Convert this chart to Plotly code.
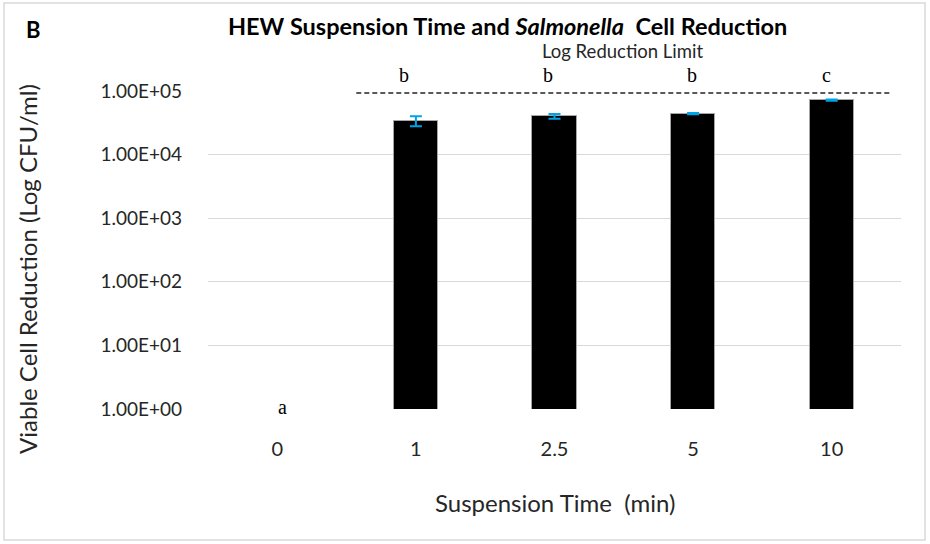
import plotly.graph_objects as go

# Data
times = ["0", "1", "2.5", "5", "10"]
reduction = [1, 34000, 40000, 44000, 72000]
reduction_err = [0, 6000, 3500, 1000, 1500]
group_letters = ["a", "b", "b", "b", "c"]
log_limit = 93000
tick_vals = [1, 10, 100, 1000, 10000, 100000]
tick_text = ["1.00E+00", "1.00E+01", "1.00E+02", "1.00E+03", "1.00E+04", "1.00E+05"]

W, H = 930, 544
L, R, T, B = 208, 29, 91, 135
FONT = "Lato"
TXT = "#262626"

fig = go.Figure()

# a reduction of 1 (no change) has no visible bar on the log axis
bar_y = [v if v > 1 else None for v in reduction]
bar_err = [e if v > 1 else None for v, e in zip(reduction, reduction_err)]

fig.add_trace(go.Bar(
    x=times, y=bar_y,
    width=0.32,
    marker=dict(color="black", line=dict(color="#a6a6a6", width=1)),
    error_y=dict(type="data", array=bar_err, visible=True,
                 color="#00a2e8", thickness=2, width=6),
    showlegend=False, hoverinfo="skip",
))

# limit line across the treated groups (overlaid numeric axis)
fig.add_trace(go.Scatter(
    x=[0.57, 4.42], y=[log_limit, log_limit], xaxis="x2",
    mode="lines", line=dict(color="#595959", width=2, dash="5px,3px"),
    showlegend=False, hoverinfo="skip",
))

fig.update_layout(
    width=W, height=H,
    margin=dict(l=L, r=R, t=T, b=B),
    paper_bgcolor="white", plot_bgcolor="white",
    font=dict(family=FONT, color=TXT),
    bargap=0,
    xaxis=dict(
        type="category", range=[-0.5, 4.5],
        showgrid=False, zeroline=False, showline=False,
        ticks="", tickfont=dict(size=20, color=TXT),
        ticklabelstandoff=26,
    ),
    xaxis2=dict(overlaying="x", range=[-0.5, 4.5], visible=False),
    yaxis=dict(
        type="log", range=[0, 5],
        tickvals=tick_vals, ticktext=tick_text,
        showgrid=True, gridcolor="#d9d9d9", gridwidth=1,
        zeroline=False, showline=False, ticks="",
        tickfont=dict(size=19, color=TXT),
        ticklabelstandoff=25,
    ),
)

pw = W - L - R
ph = H - T - B

def px_x(px):
    return (px - L) / pw

def px_y(py):
    return 1 - (py - T) / ph

def label(text, cx, cy, size, color=TXT, **kw):
    return dict(text=text, x=px_x(cx), y=px_y(cy), xref="paper", yref="paper",
                xanchor="center", yanchor="middle", showarrow=False, borderpad=0,
                font=dict(size=size, color=color), **kw)

annotations = [
    label("<b>B</b>", 33, 29, 22, "#000000"),
    label("<b>HEW Suspension Time and <i>Salmonella</i>  Cell Reduction</b>",
          507, 26, 23.5, "#000000"),
    label("Log Reduction Limit", 622, 51, 18.5),
    label("Suspension Time  (min)", 555, 502, 24),
    label("Viable Cell Reduction (Log CFU/ml)", 27, 269, 24, textangle=-90),
]

letter_shift = [5, -12, -7, -1, -5]
for i, (letter, v, dx) in enumerate(zip(group_letters, reduction, letter_shift)):
    untreated = v <= 1
    annotations.append(dict(
        text=letter, x=i, y=0 if untreated else 5, xref="x", yref="y",
        xanchor="center", yanchor="middle",
        xshift=dx, yshift=2 if untreated else 16, borderpad=0,
        showarrow=False, font=dict(family="Liberation Serif", size=20, color="#000000"),
    ))

fig.update_layout(annotations=annotations)

# outer chart frame
fig.add_shape(type="rect", xref="paper", yref="paper",
              x0=px_x(4), x1=px_x(925), y0=px_y(540), y1=px_y(3),
              line=dict(color="#d9d9d9", width=1.5), fillcolor="rgba(0,0,0,0)",
              layer="below")

fig.write_html("out.html")
